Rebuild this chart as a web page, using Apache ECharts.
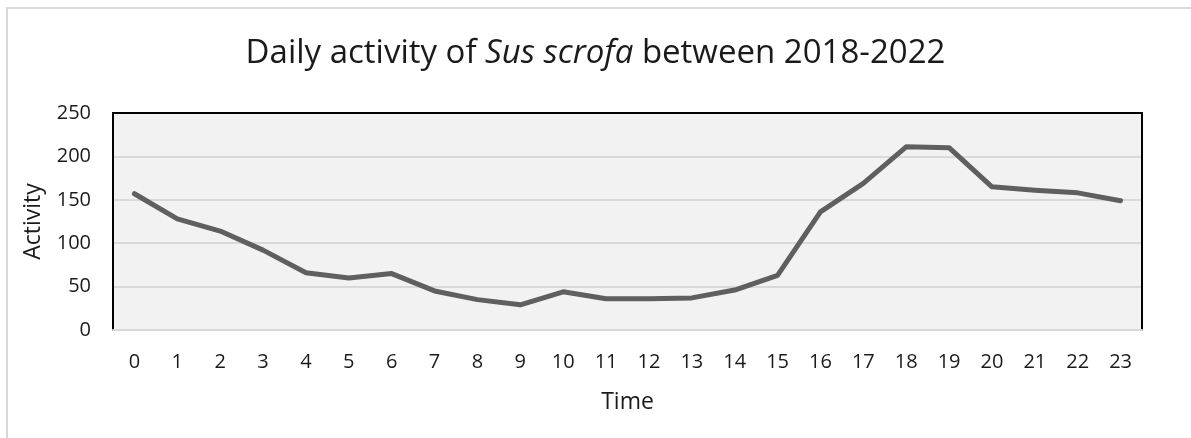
<!DOCTYPE html>
<html>
<head>
<meta charset="utf-8">
<script src="https://cdn.jsdelivr.net/npm/echarts@6/dist/echarts.min.js"></script>
<style>
html,body{margin:0;padding:0;background:#fff;}
#chart{width:1191px;height:438px;}
</style>
</head>
<body>
<div id="chart"></div>
<script>
const hours = ['0','1','2','3','4','5','6','7','8','9','10','11','12','13','14','15','16','17','18','19','20','21','22','23'];
const activity = [157,128,114,92,66,60,65,45,35,29,44,36,36,37,46,63,136,169,211,210,165,161,158,149];
const yTicks = { min: 0, max: 250, interval: 50 };
const titleParts = ['Daily activity of ', 'Sus scrofa', ' between 2018-2022'];
const xName = 'Time';
const yName = 'Activity';

const FONT = '"Open Sans", "Noto Sans", sans-serif';
const chart = echarts.init(document.getElementById('chart'), null, {renderer: 'canvas'});
chart.setOption({
  backgroundColor: '#ffffff',
  animation: false,
  graphic: [{
    type: 'rect', silent: true, z: -10,
    shape: {x: 7, y: 8, width: 1300, height: 600},
    style: {fill: 'none', stroke: '#d9d9d9', lineWidth: 2}
  }],
  title: {
    left: 'center', top: 32,
    text: '{n|' + titleParts[0] + '}{i|' + titleParts[1] + '}{n|' + titleParts[2] + '}',
    textStyle: {
      fontWeight: 'normal',
      rich: {
        n: {fontFamily: FONT, fontSize: 33, fontWeight: 'normal', color: '#1a1a1a'},
        i: {fontFamily: FONT, fontSize: 33, fontWeight: 'normal', fontStyle: 'italic', color: '#1a1a1a'}
      }
    }
  },
  grid: {left: 113, right: 49, top: 113, bottom: 108, show: true, backgroundColor: '#f2f2f2', borderWidth: 0},
  xAxis: [{
    type: 'category', data: hours, boundaryGap: true, position: 'bottom',
    name: xName, nameLocation: 'middle', nameGap: 61,
    nameTextStyle: {fontFamily: FONT, fontSize: 23, color: '#1a1a1a'},
    axisLine: {show: true, onZero: false, lineStyle: {color: '#d9d9d9', width: 2}},
    axisTick: {show: false},
    axisLabel: {fontFamily: FONT, fontSize: 20, color: '#1a1a1a', margin: 22, interval: 0}
  }, {
    type: 'category', data: hours, position: 'top',
    axisLine: {show: true, onZero: false, lineStyle: {color: '#000', width: 2}},
    axisTick: {show: false}, axisLabel: {show: false}, splitLine: {show: false}
  }],
  yAxis: [{
    type: 'value', min: yTicks.min, max: yTicks.max, interval: yTicks.interval,
    name: yName, nameLocation: 'middle', nameGap: 68, nameRotate: 90,
    nameTextStyle: {fontFamily: FONT, fontSize: 23, color: '#1a1a1a'},
    axisLine: {show: true, onZero: false, lineStyle: {color: '#000', width: 2}},
    axisTick: {show: false},
    axisLabel: {fontFamily: FONT, fontSize: 20, color: '#1a1a1a', margin: 22},
    splitLine: {show: true, lineStyle: {color: '#d9d9d9', width: 2}}
  }, {
    type: 'value', min: yTicks.min, max: yTicks.max, interval: yTicks.interval, position: 'right',
    axisLine: {show: true, onZero: false, lineStyle: {color: '#000', width: 2}},
    axisTick: {show: false}, axisLabel: {show: false}, splitLine: {show: false}
  }],
  series: [{
    type: 'line', data: activity, xAxisIndex: 0, yAxisIndex: 0,
    symbol: 'none', smooth: false,
    lineStyle: {color: '#5f5f5f', width: 5, cap: 'round', join: 'round'}
  }]
});
</script>
</body>
</html>
